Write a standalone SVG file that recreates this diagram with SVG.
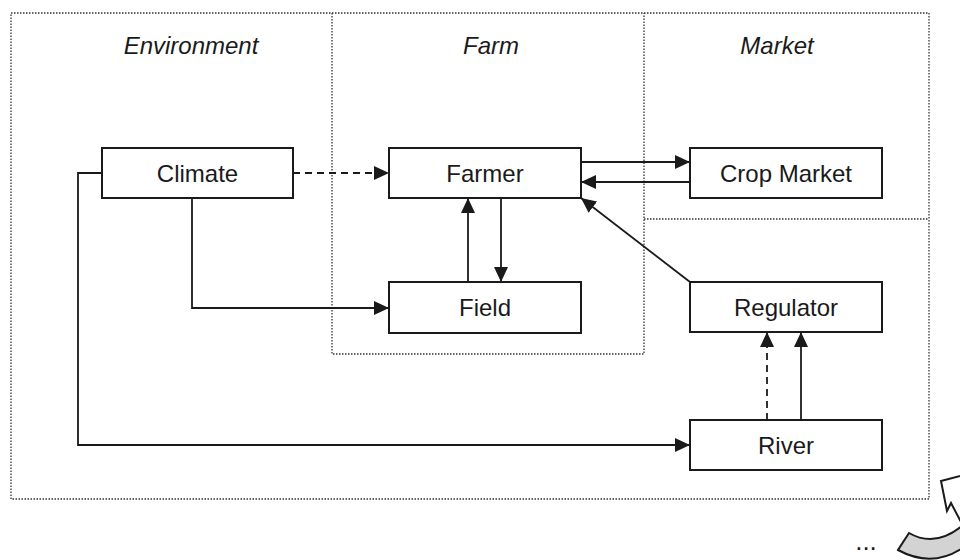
<svg xmlns="http://www.w3.org/2000/svg" width="960" height="560" viewBox="0 0 960 560">
<defs>
<marker id="ah" markerUnits="userSpaceOnUse" markerWidth="17" markerHeight="14" refX="15" refY="7" orient="auto">
<path d="M0,0 L15,7 L0,14 z" fill="#1a1a1a"/>
</marker>
<style>
.zone{fill:none;stroke:#333;stroke-width:1.3;stroke-dasharray:1.5 1.5}
.box{fill:#fff;stroke:#1a1a1a;stroke-width:2}
.lbl{font-family:"Liberation Sans",Arial,sans-serif;font-size:24px;fill:#1a1a1a;text-anchor:middle}
.zl{font-family:"Liberation Sans",Arial,sans-serif;font-size:24px;font-style:italic;fill:#1a1a1a;text-anchor:middle}
.c{fill:none;stroke:#1a1a1a;stroke-width:1.8;marker-end:url(#ah)}
.d{stroke-dasharray:7 5}
</style>
</defs>
<g id="zones">
<rect class="zone" x="11" y="13" width="918" height="486"/>
<path class="zone" d="M332,13 V354 H644 V13"/>
<path class="zone" d="M644,219 H929"/>
<text class="zl" x="191" y="54">Environment</text>
<text class="zl" x="491" y="54">Farm</text>
<text class="zl" x="777" y="54">Market</text>
</g>
<g id="connectors">
<path class="c d" d="M293,173 H389"/>
<path class="c" d="M581,162 H690"/>
<path class="c" d="M690,182 H581"/>
<path class="c" d="M690,282 L581,198"/>
<path class="c" d="M468,282 V198"/>
<path class="c" d="M501,198 V282"/>
<path class="c" d="M192,198 V308 H389"/>
<path class="c" d="M102,173 H78 V445 H690"/>
<path class="c d" d="M767,420 V332"/>
<path class="c" d="M801,420 V332"/>
</g>
<g id="climate"><rect class="box" x="102" y="148" width="191" height="50"/><text class="lbl" x="197.5" y="181.5">Climate</text></g>
<g id="farmer"><rect class="box" x="389" y="148" width="192" height="50"/><text class="lbl" x="485" y="181.5">Farmer</text></g>
<g id="crop-market"><rect class="box" x="690" y="148" width="192" height="50"/><text class="lbl" x="786" y="181.5">Crop Market</text></g>
<g id="field"><rect class="box" x="389" y="282" width="192" height="51"/><text class="lbl" x="485" y="316">Field</text></g>
<g id="regulator"><rect class="box" x="690" y="282" width="192" height="50"/><text class="lbl" x="786" y="315.5">Regulator</text></g>
<g id="river"><rect class="box" x="690" y="420" width="192" height="50"/><text class="lbl" x="786" y="453.5">River</text></g>
<g id="more">
<text class="lbl" x="866" y="550" style="font-size:26px">...</text>
<path d="M941,481 L975,472 L980,528 L962,524 L951,503 L947,511 Z" fill="#fff" stroke="#1a1a1a" stroke-width="2"/>
<path d="M909,533 Q935,548 962,526 L968,544 Q935,570 898,550 Z" fill="#d3d3d3" stroke="#1a1a1a" stroke-width="2"/>
</g>
</svg>
